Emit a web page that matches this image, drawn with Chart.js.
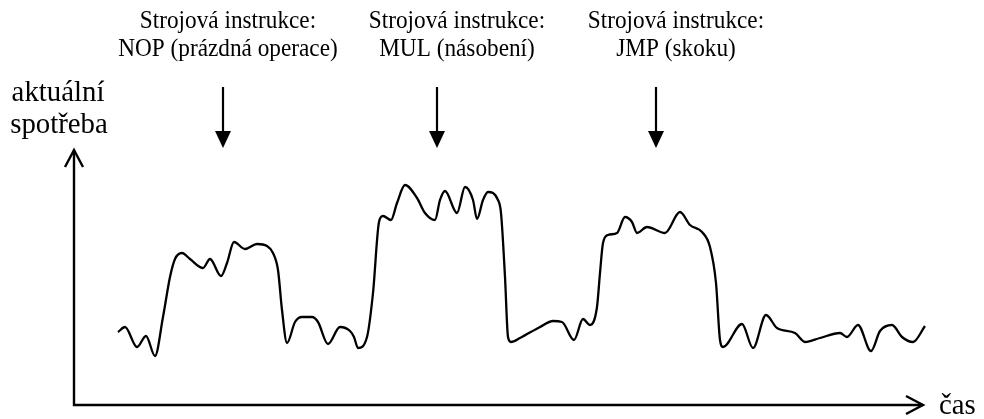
<!DOCTYPE html>
<html>
<head>
<meta charset="utf-8">
<script src="https://cdn.jsdelivr.net/npm/chart.js@4"></script>
<style>
html,body{margin:0;padding:0;background:#fff;}
#wrap{width:984px;height:419px;}
</style>
</head>
<body>
<div id="wrap"><canvas id="c" width="984" height="419"></canvas></div>
<script>
// time (arbitrary units from the origin of the axes)
const timeValues = [44,51,63,72,81,89,96,101,108,116,129,136,147,153,160,171,183,193,199,204,208,213,221,228,238,244,254,266,276,280,284,293,299,305,309,317,323,331,343,351,361,366,371,383,391,399,403,409,414,424,427,431,434,437,446,466,479,488,500,509,516,523,526,529,534,543,551,558,563,573,591,606,616,628,636,642,646,649,668,679,692,703,721,731,746,766,773,784,797,806,818,828,839,851];
// current consumption (arbitrary units above the time axis)
const consumptionValues = [73,78,58,69,49,88,128,146,152,146,137,146,129,142,163,156,161,159,152,135,95,62,83,88,88,83,61,78,74,68,57,68,112,183,189,185,202,220,207,192,185,205,214,192,218,205,186,205,213,205,192,128,68,63,67,78,84,83,65,86,80,98,132,162,170,172,188,183,172,178,172,193,180,173,158,122,65,58,81,57,90,77,72,63,67,72,68,80,54,74,80,68,63,79];
// instruction markers
const instructionTimes = [149, 363, 582];
const instructionLine1 = ["Strojová instrukce:", "Strojová instrukce:", "Strojová instrukce:"];
const instructionLine2 = ["NOP (prázdná operace)", "MUL (násobení)", "JMP (skoku)"];
const yAxisLabel = ["aktuální", "spotřeba"];
const xAxisLabel = "čas";

const points = timeValues.map((t, i) => ({x: t, y: consumptionValues[i]}));

const SERIF = '"Liberation Serif", "Times New Roman", serif';

function squeezedText(ctx, text, x, y, sx) {
  ctx.save();
  ctx.translate(x, y);
  ctx.scale(sx, 1);
  ctx.fillText(text, 0, 0);
  ctx.restore();
}

const decor = {
  id: 'decor',
  afterDraw(chart) {
    const ctx = chart.ctx;
    const xs = chart.scales.x, ys = chart.scales.y;
    const ox = xs.getPixelForValue(0), oy = ys.getPixelForValue(0);
    const yTop = ys.getPixelForValue(255);
    const xEnd = xs.getPixelForValue(849);
    ctx.save();
    ctx.strokeStyle = '#000';
    ctx.fillStyle = '#000';
    ctx.lineWidth = 2.4;
    ctx.lineCap = 'butt';
    ctx.lineJoin = 'miter';
    // axes
    ctx.beginPath();
    ctx.moveTo(ox, yTop);
    ctx.lineTo(ox, oy);
    ctx.lineTo(xEnd, oy);
    ctx.stroke();
    // y arrow head (open)
    ctx.beginPath();
    ctx.moveTo(ox - 9, yTop + 17);
    ctx.lineTo(ox, yTop);
    ctx.lineTo(ox + 9, yTop + 17);
    ctx.stroke();
    // x arrow head (open)
    ctx.beginPath();
    ctx.moveTo(xEnd - 17, oy - 9);
    ctx.lineTo(xEnd, oy);
    ctx.lineTo(xEnd - 17, oy + 9);
    ctx.stroke();

    // instruction arrows and labels
    const textOffsets = [5, 20, 20];
    instructionTimes.forEach((t, i) => {
      const px = xs.getPixelForValue(t);
      ctx.lineWidth = 2.2;
      ctx.beginPath();
      ctx.moveTo(px, 87);
      ctx.lineTo(px, 133);
      ctx.stroke();
      ctx.beginPath();
      ctx.moveTo(px - 8, 131);
      ctx.lineTo(px + 8, 131);
      ctx.lineTo(px, 148);
      ctx.closePath();
      ctx.fill();
      ctx.font = '25px ' + SERIF;
      ctx.textAlign = 'center';
      ctx.textBaseline = 'alphabetic';
      const cx = px + textOffsets[i];
      squeezedText(ctx, instructionLine1[i], cx, 28, 0.93);
      squeezedText(ctx, instructionLine2[i], cx, 56, 0.93);
    });

    // axis labels
    ctx.font = '30px ' + SERIF;
    ctx.textAlign = 'center';
    ctx.textBaseline = 'alphabetic';
    squeezedText(ctx, yAxisLabel[0], 58, 101, 0.96);
    squeezedText(ctx, yAxisLabel[1], 59, 133, 0.96);
    ctx.textAlign = 'left';
    squeezedText(ctx, xAxisLabel, 939, 414, 0.96);
    ctx.restore();
  }
};

new Chart(document.getElementById('c'), {
  type: 'line',
  data: {
    datasets: [{
      data: points,
      borderColor: '#000',
      borderWidth: 2.3,
      pointRadius: 0,
      fill: false,
      cubicInterpolationMode: 'monotone'
    }]
  },
  options: {
    responsive: false,
    devicePixelRatio: 1,
    animation: false,
    layout: {padding: 0},
    plugins: {legend: {display: false}, tooltip: {enabled: false}, title: {display: false}},
    scales: {
      x: {type: 'linear', min: -74, max: 910, display: false},
      y: {type: 'linear', min: -14, max: 405, display: false}
    }
  },
  plugins: [decor]
});
</script>
</body>
</html>
